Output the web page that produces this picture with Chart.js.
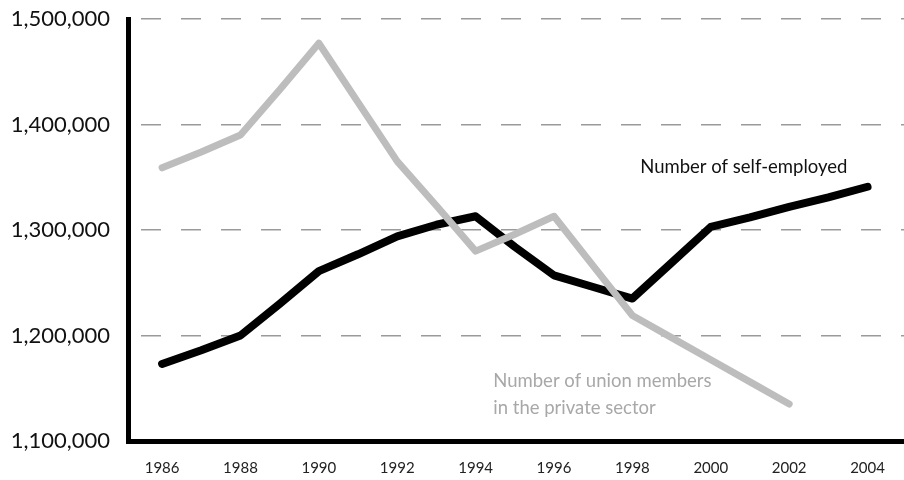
<!DOCTYPE html>
<html>
<head>
<meta charset="utf-8">
<script src="https://cdn.jsdelivr.net/npm/chart.js@4.4.1/dist/chart.umd.min.js"></script>
<style>
  html, body { margin: 0; padding: 0; background: #fff; }
  #wrap { width: 904px; height: 480px; position: relative; }
</style>
</head>
<body>
<div id="wrap"><canvas id="c"></canvas></div>
<script>
// ---- data ----
const years = [1986, 1987, 1988, 1989, 1990, 1991, 1992, 1993, 1994, 1995, 1996, 1997, 1998, 1999, 2000, 2001, 2002, 2003, 2004];
const unionMembers = [1359000, 1374000, 1390000, 1433000, 1477000, 1421000, 1365000, 1323000, 1280000, 1296000, 1313000, 1266000, 1219000, 1198000, 1177000, 1156000, 1135000, null, null];
const selfEmployed = [1173000, 1186000, 1200000, 1230000, 1261000, 1277000, 1294000, 1305000, 1313000, 1284000, 1257000, 1246000, 1235000, 1269000, 1303000, 1312000, 1322000, 1331000, 1341000];
const xTickLabels = [1986, 1988, 1990, 1992, 1994, 1996, 1998, 2000, 2002, 2004];
const yTickValues = [1100000, 1200000, 1300000, 1400000, 1500000];
const seriesLabels = ["Number of self-employed", "Number of union members", "in the private sector"];

const toPoints = arr => years.map((y, i) => ({ x: y, y: arr[i] })).filter(p => p.y !== null);

const labelPlugin = {
  id: 'seriesLabels',
  afterDatasetsDraw(chart) {
    const { ctx, scales: { x, y } } = chart;
    ctx.save();
    ctx.textBaseline = 'middle';
    ctx.textAlign = 'left';
    ctx.font = '18.5px Lato';
    ctx.fillStyle = '#111';
    ctx.fillText(seriesLabels[0], x.getPixelForValue(1998.2), y.getPixelForValue(1360000));
    ctx.fillStyle = '#a8a8a8';
    ctx.fillText(seriesLabels[1], x.getPixelForValue(1994.45), y.getPixelForValue(1157000));
    ctx.fillText(seriesLabels[2], x.getPixelForValue(1994.45), y.getPixelForValue(1131000));
    ctx.restore();
  }
};

new Chart(document.getElementById('c'), {
  type: 'line',
  data: {
    datasets: [
      {
        label: 'Union members',
        data: toPoints(unionMembers),
        borderColor: '#bdbdbd',
        borderWidth: 7,
        pointRadius: 0,
        tension: 0,
        borderJoinStyle: 'round',
        borderCapStyle: 'round'
      },
      {
        label: 'Self-employed',
        data: toPoints(selfEmployed),
        borderColor: '#000',
        borderWidth: 8,
        pointRadius: 0,
        tension: 0,
        borderJoinStyle: 'round',
        borderCapStyle: 'round'
      }
    ]
  },
  options: {
    responsive: true,
    maintainAspectRatio: false,
    animation: false,
    layout: { padding: { top: 19, right: 0, left: 0, bottom: 0 } },
    plugins: { legend: { display: false }, tooltip: { enabled: false } },
    scales: {
      x: {
        type: 'linear',
        min: 1985.13,
        max: 2004.93,
        afterBuildTicks: s => { s.ticks = xTickLabels.map(v => ({ value: v })); },
        afterFit: s => { s.height = 39; s.paddingLeft = 0; s.paddingRight = 0; },
        grid: { display: false, drawTicks: false },
        border: { display: true, color: '#000', width: 5 },
        ticks: {
          callback: v => String(v),
          color: '#222',
          font: { family: 'Lato', size: 15 },
          padding: 18,
          maxRotation: 0,
          autoSkip: false
        }
      },
      y: {
        type: 'linear',
        min: 1100000,
        max: 1500000,
        afterBuildTicks: s => { s.ticks = yTickValues.map(v => ({ value: v })); },
        afterFit: s => { s.width = 128; s.paddingTop = 0; s.paddingBottom = 0; },
        grid: { color: '#9a9a9a', lineWidth: 1.5, drawTicks: false },
        border: { display: true, color: '#000', width: 5, dash: [20, 20], dashOffset: -10 },
        ticks: {
          callback: v => v.toLocaleString('en-US'),
          color: '#111',
          font: { family: 'Lato', size: 22 },
          padding: 18
        }
      }
    }
  },
  plugins: [labelPlugin]
});
</script>
</body>
</html>
